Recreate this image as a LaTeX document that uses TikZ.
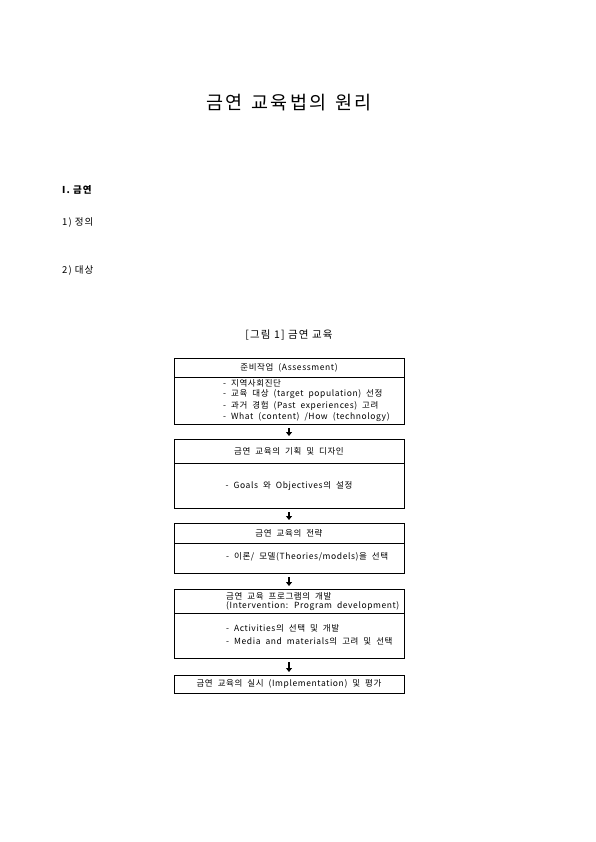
\documentclass[tikz,border=0pt]{standalone}
\usepackage{fontspec}
\setmainfont{Noto Sans CJK KR}[LetterSpace=7,WordSpace=2]
\newfontfamily\widefont{Noto Sans CJK KR}[LetterSpace=11]
\usetikzlibrary{arrows.meta}
\begin{document}
\begin{tikzpicture}[x=1pt,y=-1pt,
  box/.style={draw, line width=0.8pt, minimum width=230pt, inner sep=0pt, anchor=north, font=\fontsize{8.5}{11}\selectfont},
  txt/.style={font=\fontsize{8.5}{11}\selectfont, inner sep=0pt, anchor=west, align=left},
  ctxt/.style={font=\fontsize{8.5}{11}\selectfont, inner sep=0pt},
  sec/.style={font=\widefont\fontsize{9.5}{11}\selectfont, inner sep=0pt, anchor=west},
  arr/.style={line width=1.6pt, -{Triangle[width=6pt,length=4pt]}, shorten <=3.5pt, shorten >=3pt}]
\useasboundingbox[fill=white] (0,0) rectangle (595,842);
\node[font=\widefont\fontsize{18.5}{20}\selectfont, inner sep=0pt] (title) at (289,103) {금연\hspace{3pt} 교육법의\hspace{3pt} 원리};
\node[sec, font=\widefont\fontsize{9.5}{11}\selectfont\bfseries] (s1) at (62,190) {I. 금연};
\node[sec] (s2) at (62,223) {1) 정의};
\node[sec] (s3) at (62,271) {2) 대상};
\node[ctxt, font=\widefont\fontsize{10.5}{11}\selectfont] (cap) at (289,335) {[그림 1] 금연 교육};
% box 1
\node[box, minimum height=19pt] (h1) at (289,358) {준비작업 (Assessment)};
\node[box, minimum height=47pt] (b1) at (289,377) {};
\node[txt] (t1a) at (223,383) {- 지역사회진단};
\node[txt] (t1b) at (223,394.5) {- 교육 대상 (target population) 선정};
\node[txt] (t1c) at (223,406) {- 과거 경험 (Past experiences) 고려};
\node[txt] (t1d) at (223,417.5) {- What (content) /How (technology)};
% box 2
\node[box, minimum height=24pt] (h2) at (289,439) {금연 교육의 기획 및 디자인};
\node[box, minimum height=45pt] (b2) at (289,463) {- Goals 와 Objectives의 설정};
% box 3
\node[box, minimum height=20pt] (h3) at (289,523) {금연 교육의 전략};
\node[box, minimum height=30pt] (b3) at (289,543) {};
\node[txt] (t3) at (226,557) {- 이론/ 모델(Theories/models)을 선택};
% box 4
\node[box, minimum height=24pt] (h4) at (289,589) {};
\node[txt] (t4a) at (226,596) {금연 교육 프로그램의 개발};
\node[txt] (t4b) at (226,606.5) {(Intervention: Program development)};
\node[box, minimum height=45pt] (b4) at (289,613) {};
\node[txt] (t4c) at (226,628) {- Activities의 선택 및 개발};
\node[txt] (t4d) at (226,641) {- Media and materials의 고려 및 선택};
% box 5
\node[box, minimum height=18pt] (h5) at (289,675) {금연 교육의 실시 (Implementation) 및 평가};
% arrows
\draw[arr] (b1.south) -- (h2.north);
\draw[arr] (b2.south) -- (h3.north);
\draw[arr] (b3.south) -- (h4.north);
\draw[arr] (b4.south) -- (h5.north);
\end{tikzpicture}
\end{document}
